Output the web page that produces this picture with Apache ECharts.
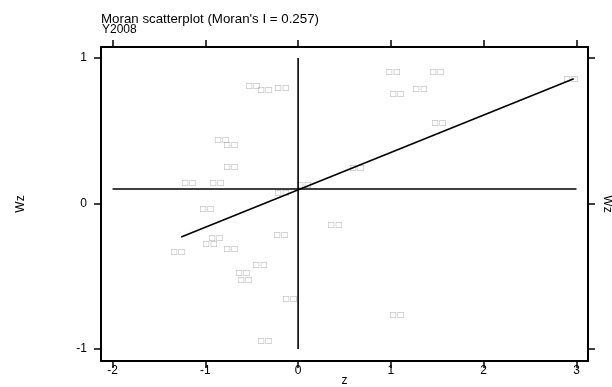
<!DOCTYPE html>
<html>
<head>
<meta charset="utf-8">
<script src="https://cdn.jsdelivr.net/npm/echarts@6/dist/echarts.min.js"></script>
<style>
html,body{margin:0;padding:0;background:#fff;}
#main{width:612px;height:387px;}
</style>
</head>
<body>
<div id="main"></div>
<script>
// z 与 Wz
var zVals = [-0.485, -0.356, -0.172, 1.024, 1.067, 1.315, 1.498, 1.519, 2.942, -0.819,
  -0.722, -0.722, -1.175, -0.873, 0.065, -0.172, -0.981, -0.884, -0.948, -0.722,
  -1.293, -0.183, -0.409, -0.593, -0.571, -0.086, -0.356, 0.636, 0.399, 1.067];
var wzVals = [0.808, 0.780, 0.794, 0.904, 0.753, 0.790, 0.904, 0.553, 0.856, 0.436,
  0.402, 0.251, 0.141, 0.141, 0.127, 0.072, -0.038, -0.237, -0.278, -0.313,
  -0.333, -0.216, -0.423, -0.478, -0.526, -0.656, -0.945, 0.244, -0.148, -0.766];
var pointLabel = '\u25A1\u25A1';
var xTicks = [-2, -1, 0, 1, 2, 3];
var yTicks = [-1, 0, 1];
var hLine = [[-2, 0.1], [3, 0.1]];       // 均值水平线
var vLine = [[0, -1], [0, 1]];           // 均值垂直线
var fitLine = [[-1.26, -0.23], [2.97, 0.858]]; // 拟合线，斜率 0.257

var pts = [];
for (var i = 0; i < zVals.length; i++) {
  pts.push([zVals[i], wzVals[i]]);
}

var font = 'Liberation Sans, Arial, sans-serif';
var lineCol = '#000';

function xAx(pos, showLabel) {
  return {
    type: 'value', position: pos, min: -2.124, max: 3.124,
    name: showLabel ? 'z' : '', nameLocation: 'middle', nameGap: 14, nameMoveOverlap: false,
    nameTextStyle: {fontFamily: font, fontSize: 12, color: '#000'},
    axisLine: {show: true, onZero: false, lineStyle: {color: lineCol, width: 2}},
    axisTick: {show: true, length: 7, customValues: xTicks, lineStyle: {color: lineCol, width: 1.5}},
    axisLabel: {show: showLabel, customValues: xTicks, margin: 4, fontFamily: font, fontSize: 12, color: '#000'},
    splitLine: {show: false}
  };
}
function yAx(pos, showLabel) {
  return {
    type: 'value', position: pos, min: -1.082, max: 1.076,
    name: 'Wz', nameLocation: 'middle', nameGap: showLabel ? 74 : 13, nameMoveOverlap: false,
    nameRotate: showLabel ? 90 : -90,
    nameTextStyle: {fontFamily: font, fontSize: 12, color: '#000'},
    axisLine: {show: true, onZero: false, lineStyle: {color: lineCol, width: 2}},
    axisTick: {show: true, length: 7, customValues: yTicks, lineStyle: {color: lineCol, width: 1.5}},
    axisLabel: {show: showLabel, customValues: yTicks, margin: 14, fontFamily: font, fontSize: 12, color: '#000'},
    splitLine: {show: false}
  };
}

var chart = echarts.init(document.getElementById('main'), null, {renderer: 'canvas'});
chart.setOption({
  animation: false,
  backgroundColor: '#fff',
  title: [
    {text: "Moran scatterplot (Moran's I = 0.257)", left: 101, top: 13, padding: 0,
      textStyle: {fontFamily: font, fontSize: 13.3, fontWeight: 'normal', color: '#000'}},
    {text: 'Y2008', left: 102, top: 24, padding: 0,
      textStyle: {fontFamily: font, fontSize: 12, fontWeight: 'normal', color: '#000'}}
  ],
  grid: {left: 101, right: 24, top: 47, bottom: 26, outerBoundsMode: 'none', containLabel: false},
  xAxis: [xAx('bottom', true), xAx('top', false)],
  yAxis: [yAx('left', true), yAx('right', false)],
  series: [
    {type: 'line', data: hLine, symbol: 'none', lineStyle: {color: '#000', width: 1.6}, silent: true},
    {type: 'line', data: vLine, symbol: 'none', lineStyle: {color: '#000', width: 1.6}, silent: true},
    {type: 'line', data: fitLine, symbol: 'none', lineStyle: {color: '#000', width: 1.6}, silent: true},
    {
      type: 'scatter', data: pts, symbolSize: 1,
      itemStyle: {color: 'rgba(0,0,0,0)'},
      label: {show: true, position: 'inside', formatter: pointLabel,
        fontFamily: 'DejaVu Sans', fontSize: 8, color: '#9a9a9a'}
    }
  ]
});
</script>
</body>
</html>
